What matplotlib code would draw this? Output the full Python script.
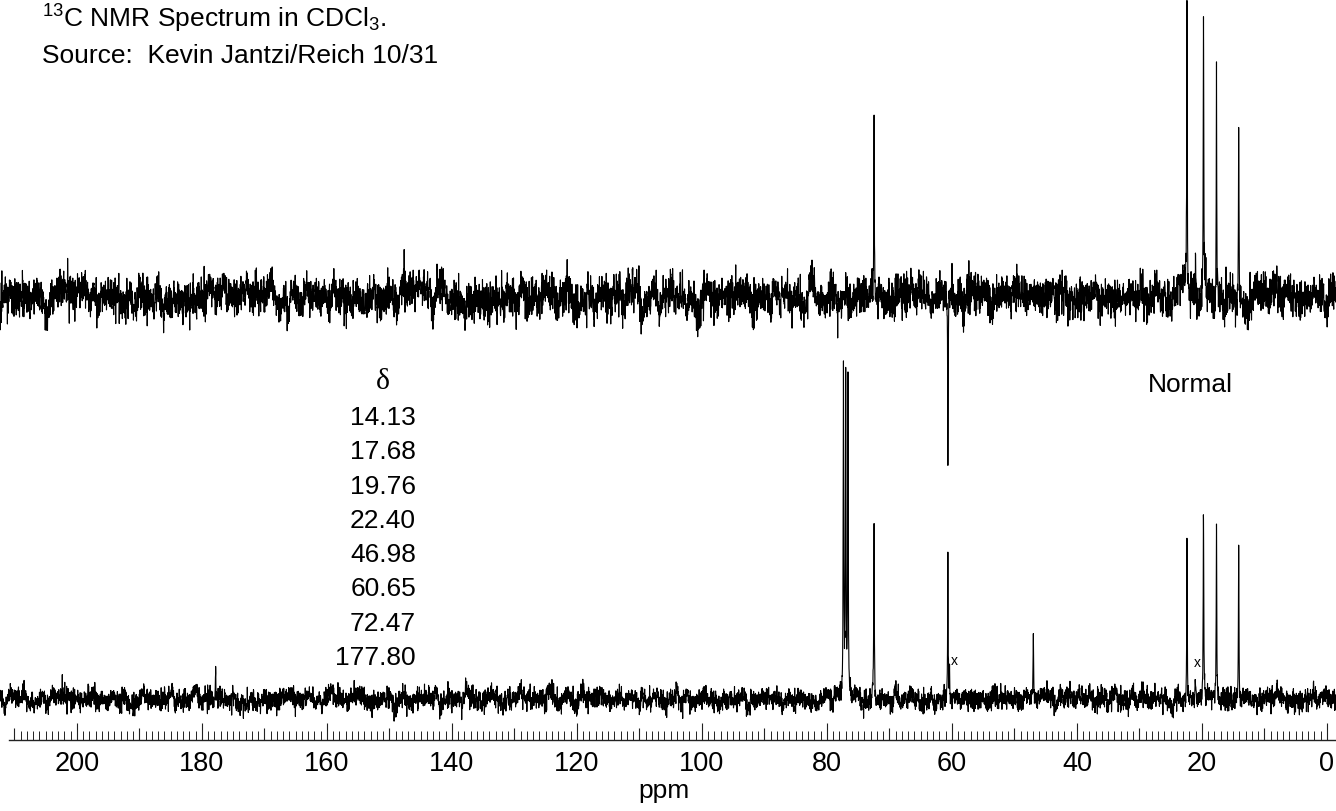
import numpy as np
import matplotlib
matplotlib.use("Agg")
import matplotlib.pyplot as plt

plt.rcParams["font.family"] = ["Liberation Sans", "DejaVu Sans"]
plt.rcParams["mathtext.fontset"] = "custom"
plt.rcParams["mathtext.rm"] = "Liberation Sans"
plt.rcParams["mathtext.it"] = "Liberation Sans:italic"

W, H = 1336, 811

# assigned shifts (ppm)
shifts = ["14.13", "17.68", "19.76", "22.40", "46.98", "60.65", "72.47", "177.80"]

# top trace (DEPT-type): peak positions and heights (px above baseline)
dept_ppm = [14.13, 17.68, 19.76, 21.05, 22.40, 60.65, 72.47]
dept_int = [175, 226, 277, 41, 285, -178, 175]

# bottom trace (normal 13C)
norm_ppm = [14.13, 17.68, 19.76, 21.05, 22.40, 46.98, 60.40, 60.65, 72.47,
            76.64, 77.00, 77.36, 177.80]
norm_int = [163, 176, 183, 28, 158, 65, 31, 145, 182, 333, 333, 333, 30]

# impurity markers
x_marks = [60.1, 21.3]

XMAX, XMIN = 212.3, -1.44
TOP_BASE, BOT_BASE = 297, 699
AXIS_Y = 740


def trace(ppm_pk, int_pk, sigma, seed, clip=None, hump=None):
    # baseline noise texture; amplitude
    grid = np.linspace(XMAX, XMIN, 6500)
    x = np.sort(np.concatenate([grid, ppm_pk]))[::-1]
    y = np.zeros_like(x)
    for p, h in zip(ppm_pk, int_pk):
        y += h / (1 + ((x - p) / 0.05) ** 2)
    if hump is not None:
        y += hump[1] / (1 + ((x - hump[0]) / 0.35) ** 2)
    if clip is not None:
        y = np.minimum(y, clip)
    rng = np.random.default_rng(seed)
    n = rng.normal(0, sigma, len(x))
    n += np.convolve(rng.normal(0, sigma * 0.6, len(x)), np.ones(25) / 5, mode="same")
    y += n
    return x, y


fig = plt.figure(figsize=(W / 100, H / 100), dpi=100)
ax = fig.add_axes([0, 0, 1, 1])
ax.set_xlim(XMAX, XMIN)
ax.set_ylim(H, 0)

xt, yt = trace(dept_ppm, dept_int, 9.5, 3)
ax.plot(xt, TOP_BASE - yt, color="black", lw=0.8)
xb, yb = trace(norm_ppm, norm_int, 5.2, 11, clip=333, hump=(77.0, 12))
ax.plot(xb, BOT_BASE - yb, color="black", lw=0.8)

# scale
for s in ["top", "left", "right"]:
    ax.spines[s].set_visible(False)
frac = (H - AXIS_Y) / H
ax.spines["bottom"].set_position(("axes", frac))
ax.spines["bottom"].set_bounds(210.9, XMIN)
ax.spines["bottom"].set_linewidth(1.0)
ax.spines["bottom"].set_color("#222222")
ax.set_yticks([])
ax.set_xticks(np.arange(0, 201, 20))
ax.set_xticks(np.arange(0, 211, 1), minor=True)
ax.tick_params(axis="x", which="major", direction="in", length=12.2, width=0.8,
               color="#222222", labelsize=19.5, pad=8)
ax.tick_params(axis="x", which="minor", direction="in", length=6.8, width=0.7,
               color="#222222")
sec = ax.secondary_xaxis(frac)
sec.spines["bottom"].set_visible(False)
sec.set_xticks(np.arange(10, 211, 20))
sec.set_xticklabels([])
sec.tick_params(axis="x", direction="in", length=9, width=0.8, color="#222222")

fig.text(664 / W, 1 - 791 / H, "ppm", ha="center", va="center", fontsize=19)

# header text
fig.text(42 / W, 1 - 28 / H, r"$^{13}$C NMR Spectrum in CDCl$_3$.",
         ha="left", va="baseline", fontsize=19)
fig.text(42 / W, 1 - 63 / H, "Source:  Kevin Jantzi/Reich 10/31",
         ha="left", va="baseline", fontsize=19)

# shift list
fig.text(383 / W, 1 - 382 / H, "δ", ha="center", va="center", fontsize=21.5,
         family=["Liberation Serif", "DejaVu Serif"])
for i, s in enumerate(shifts):
    fig.text(416 / W, 1 - (425 + 34.3 * i) / H, s, ha="right", va="baseline",
             fontsize=19)

fig.text(1190 / W, 1 - 385 / H, "Normal", ha="center", va="center", fontsize=19)

for p, yy in zip(x_marks, [661, 663]):
    ax.text(p, yy, "x", ha="left", va="center", fontsize=10)

fig.savefig("out.png", dpi=100)
